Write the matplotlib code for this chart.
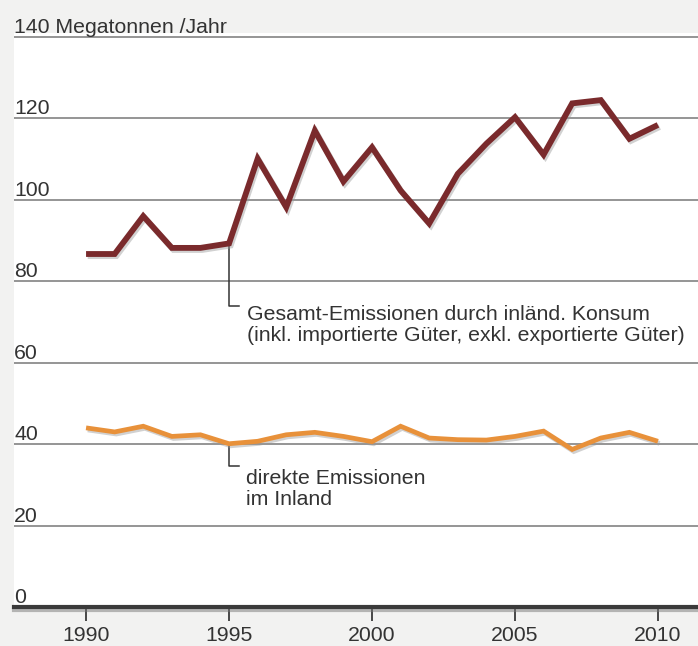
import matplotlib
matplotlib.use("Agg")
import matplotlib.pyplot as plt
import matplotlib.patheffects as pe

plt.rcParams['font.family'] = ['Liberation Sans', 'DejaVu Sans']

years = list(range(1990, 2011))
total = [86.7, 86.7, 96.0, 88.2, 88.2, 89.3, 110.1, 98.2, 117.0, 104.5, 112.9,
         102.3, 94.2, 106.4, 113.8, 120.3, 111.1, 123.7, 124.5, 115.0, 118.4]
direct = [44.0, 43.0, 44.4, 41.9, 42.3, 40.1, 40.7, 42.3, 42.9, 41.9, 40.6,
          44.4, 41.5, 41.1, 41.0, 41.9, 43.2, 38.7, 41.5, 42.9, 40.7]
y_ticks = [0, 20, 40, 60, 80, 100, 120, 140]
y_labels = ["0", "20", "40", "60", "80", "100", "120", "140 Megatonnen /Jahr"]
x_ticks = [1990, 1995, 2000, 2005, 2010]
x_labels = ["1990", "1995", "2000", "2005", "2010"]
label_total = "Gesamt-Emissionen durch inländ. Konsum\n(inkl. importierte Güter, exkl. exportierte Güter)"
label_direct = "direkte Emissionen\nim Inland"

RED = "#7a2a2c"
ORANGE = "#e8913a"
TXT = "#333333"

W, H = 698, 646
fig = plt.figure(figsize=(W / 100, H / 100), dpi=100, facecolor="#f2f2f1")
px_per_unit = 570 / 140.0
ytop = 141
left_px, bottom_px = 14, 607
top_px = bottom_px - ytop * px_per_unit
ax = fig.add_axes([left_px / W, 1 - bottom_px / H, 1 - left_px / W, (bottom_px - top_px) / H])
ax.set_facecolor("white")
for s in ax.spines.values():
    s.set_visible(False)

ax.set_xlim(1987.48, 2011.40)
ax.set_ylim(0, ytop)

# gridlines
for v in y_ticks[1:]:
    ax.axhline(v, color="#8c8c8c", lw=1.3, zorder=1)
ax.axhline(0, color="#3a3a3a", lw=3, clip_on=False, zorder=3,
           path_effects=[pe.SimpleLineShadow(offset=(0, -2.5), shadow_color="#777777", alpha=0.5),
                         pe.Normal()])

shadow = [pe.SimpleLineShadow(offset=(1.2, -1.5), shadow_color="#999999", alpha=0.45), pe.Normal()]
ax.plot(years, total, color=RED, lw=4.2, solid_joinstyle="miter", solid_capstyle="butt",
        zorder=5, path_effects=shadow)
ax.plot(years, direct, color=ORANGE, lw=3.4, solid_joinstyle="miter", solid_capstyle="butt",
        zorder=5, path_effects=shadow)

# y tick labels inside, above gridlines
ax.set_yticks(y_ticks)
ax.set_yticklabels(y_labels)
ax.tick_params(axis="y", length=0, pad=0, labelsize=15.3, labelcolor=TXT)
for lab in ax.get_yticklabels():
    lab.set_horizontalalignment("left")
    lab.set_verticalalignment("bottom")

ax.set_xticks(x_ticks)
ax.set_xticklabels(x_labels)
ax.tick_params(axis="x", direction="out", length=10, width=1.3, color="#3a3a3a",
               pad=4, labelsize=15.3, labelcolor=TXT)

# annotations
i95 = years.index(1995)
dx = 10 / 28.6
ax.plot([1995, 1995, 1995 + dx], [total[i95], 74.0, 74.0], color=TXT, lw=1.1, zorder=4)
ax.text(1995.62, 69.2, label_total, ha="left", va="center", fontsize=15.3, color=TXT,
        linespacing=1.15)
ax.plot([1995, 1995, 1995 + dx], [direct[i95], 34.6, 34.6], color=TXT, lw=1.1, zorder=4)
ax.text(1995.6, 29.0, label_direct, ha="left", va="center", fontsize=15.3, color=TXT,
        linespacing=1.15)

fig.savefig("out.png", dpi=100, facecolor=fig.get_facecolor())
